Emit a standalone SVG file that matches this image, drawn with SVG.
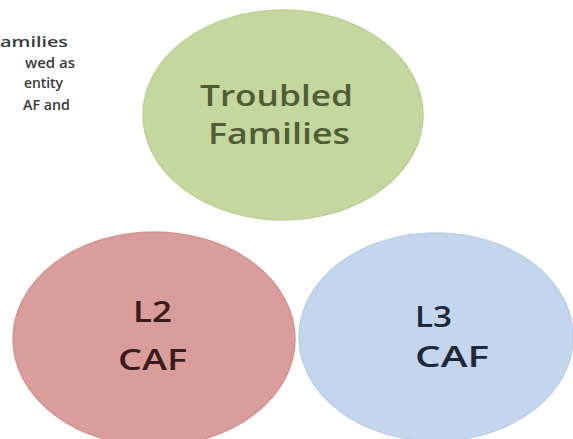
<svg xmlns="http://www.w3.org/2000/svg" width="573" height="439" viewBox="0 0 573 439">
<style>
  .lbl { font-family: "Open Sans", "Liberation Sans", sans-serif; font-size: 29px; font-weight: 600; }
  .side { font-family: "Open Sans", "Liberation Sans", sans-serif; font-size: 15px; font-weight: 600; fill: #3a3a3a; }
</style>
<rect width="573" height="439" fill="#ffffff"/>
<g id="side-text">
  <text class="side" x="0" y="47" textLength="68" lengthAdjust="spacingAndGlyphs">amilies</text>
  <text class="side" x="25" y="68" textLength="50" lengthAdjust="spacingAndGlyphs">wed as</text>
  <text class="side" x="24" y="88" textLength="39" lengthAdjust="spacingAndGlyphs">entity</text>
  <text class="side" x="23" y="110" textLength="47" lengthAdjust="spacingAndGlyphs">AF and</text>
</g>
<g id="troubled-families">
  <ellipse cx="283" cy="115" rx="140" ry="105" fill="#c4d79e" stroke="#bccf95" stroke-width="1.5"/>
  <text class="lbl" x="200" y="106" fill="#505d36" textLength="153" lengthAdjust="spacingAndGlyphs">Troubled</text>
  <text class="lbl" x="208" y="144" fill="#505d36" textLength="142" lengthAdjust="spacingAndGlyphs">Families</text>
</g>
<g id="l2-caf">
  <ellipse cx="154" cy="339" rx="141" ry="107" fill="#d99e9c" stroke="#d29593" stroke-width="1.5"/>
  <text class="lbl" x="133" y="322" fill="#3a1c1c" textLength="39" lengthAdjust="spacingAndGlyphs">L2</text>
  <text class="lbl" x="118" y="370" fill="#3a1c1c" textLength="69" lengthAdjust="spacingAndGlyphs">CAF</text>
</g>
<g id="l3-caf">
  <ellipse cx="436" cy="337" rx="137" ry="104" fill="#c4d6ee" stroke="#bccfe8" stroke-width="1.5"/>
  <text class="lbl" x="415" y="327" fill="#1e2838" textLength="37" lengthAdjust="spacingAndGlyphs">L3</text>
  <text class="lbl" x="415" y="367" fill="#1e2838" textLength="74" lengthAdjust="spacingAndGlyphs">CAF</text>
</g>
<g id="connectors"></g>
</svg>
